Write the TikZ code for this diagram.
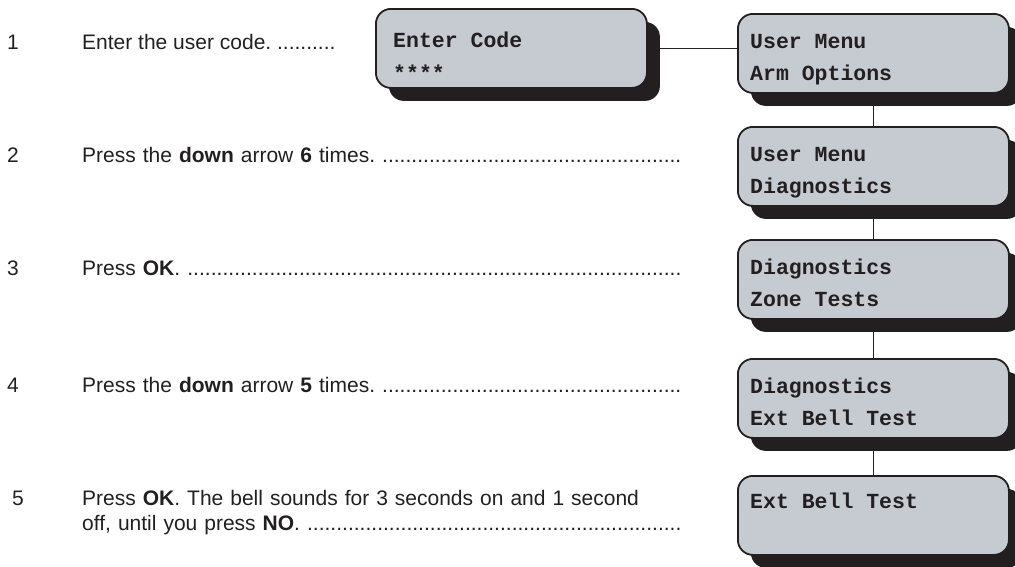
\documentclass[tikz,border=0pt]{standalone}
\usepackage{fontspec}
\setmainfont{Liberation Sans}
\newfontfamily\lcdfont{Liberation Mono}
\usetikzlibrary{positioning, shadows}
\frenchspacing

\definecolor{lcdgrey}{HTML}{C6CBD1}
\definecolor{ink}{HTML}{231F20}

\newcommand{\dotrow}{\xleaders\hbox{.}\hskip 0pt plus 1filll\mbox{}}

\begin{document}
\begin{tikzpicture}[x=1pt, y=1pt,
  lcd/.style={draw=ink, line width=1.8pt, fill=lcdgrey, rounded corners=15pt,
    minimum width=271pt, minimum height=79pt, inner sep=0pt, anchor=north west,
    drop shadow={shadow xshift=13pt, shadow yshift=-13pt, fill=ink, opacity=1}},
  lcdline/.style={anchor=base west, inner sep=0pt, text=ink,
    font=\lcdfont\bfseries\fontsize{21.5}{25}\selectfont},
  num/.style={anchor=base west, inner sep=0pt, text=ink,
    font=\fontsize{21}{25}\selectfont},
  steptext/.style={num, text width=599pt, align=left},
  link/.style={draw=ink, line width=1.8pt}]

  \useasboundingbox (0,0) rectangle (1015,-566);

  % keypad displays
  \node[lcd] (ecode) at (375,-8) {};
  \node[lcd] (umarm) at (737,-13) {};
  \node[lcd] (umdiag) at (737,-126) {};
  \node[lcd] (dgzone) at (737,-239) {};
  \node[lcd] (dgbell) at (737,-358) {};
  \node[lcd] (bell) at (737,-475) {};

  \node[lcdline] (ecode1) at ([shift={(18,-39)}]ecode.north west) {Enter Code};
  \node[lcdline] (ecode2) at ([shift={(18,-72)}]ecode.north west) {****};
  \node[lcdline] (umarm1) at ([shift={(13,-35)}]umarm.north west) {User Menu};
  \node[lcdline] (umarm2) at ([shift={(13,-67)}]umarm.north west) {Arm Options};
  \node[lcdline] (umdiag1) at ([shift={(13,-35)}]umdiag.north west) {User Menu};
  \node[lcdline] (umdiag2) at ([shift={(13,-67)}]umdiag.north west) {Diagnostics};
  \node[lcdline] (dgzone1) at ([shift={(13,-35)}]dgzone.north west) {Diagnostics};
  \node[lcdline] (dgzone2) at ([shift={(13,-67)}]dgzone.north west) {Zone Tests};
  \node[lcdline] (dgbell1) at ([shift={(13,-35)}]dgbell.north west) {Diagnostics};
  \node[lcdline] (dgbell2) at ([shift={(13,-67)}]dgbell.north west) {Ext Bell Test};
  \node[lcdline] (bell1) at ([shift={(13,-33)}]bell.north west) {Ext Bell Test};

  % links
  \draw[link] (ecode.east) -- (ecode.east -| umarm.west);
  \draw[link] (umarm.south) -- (umdiag.north);
  \draw[link] (umdiag.south) -- (dgzone.north);
  \draw[link] (dgzone.south) -- (dgbell.north);
  \draw[link] (dgbell.south) -- (bell.north);

  % steps
  \node[num] (n1) at (7,-49) {1};
  \node[num] (n2) at (7,-162) {2};
  \node[num] (n3) at (7,-275) {3};
  \node[num] (n4) at (7,-392) {4};
  \node[num] (n5) at (12,-505) {5};

  \node[num] (s1) at (82,-49) {Enter the user code. ..........};
  \node[steptext] (s2) at (82,-162) {Press the \textbf{down} arrow \textbf{6} times. \dotrow};
  \node[steptext] (s3) at (82,-275) {Press \textbf{OK}. \dotrow};
  \node[steptext] (s4) at (82,-392) {Press the \textbf{down} arrow \textbf{5} times. \dotrow};
  \node[steptext] (s5) at (82,-505) {Press \textbf{OK}. The bell sounds for 3 seconds on and 1 second\\
    off, until you press \textbf{NO}. \dotrow};
\end{tikzpicture}
\end{document}
